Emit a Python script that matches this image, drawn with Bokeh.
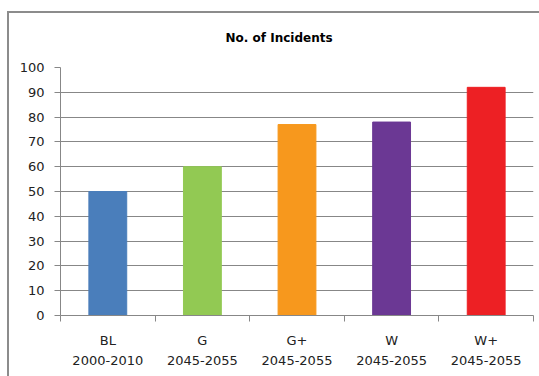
from bokeh.plotting import figure
from bokeh.models import ColumnDataSource, FixedTicker, Range1d
from bokeh.embed import file_html
from bokeh.resources import INLINE

# Scenario bars: number of incidents per period
scenarios = ["BL", "G", "G+", "W", "W+"]
periods = ["2000-2010", "2045-2055", "2045-2055", "2045-2055", "2045-2055"]
incidents = [50, 60, 77, 78, 92]
colors = ["#4a7ebb", "#92c953", "#f7981d", "#6b3894", "#ed2024"]
y_ticks = [0, 10, 20, 30, 40, 50, 60, 70, 80, 90, 100]

positions = [i + 0.5 for i in range(len(scenarios))]
source = ColumnDataSource(dict(x=positions, top=incidents, color=colors))

FONT = "DejaVu Sans"
GRID = "#878787"
FRAME = "#8c8c8c"

p = figure(
    width=532, height=371,
    x_range=Range1d(0, len(scenarios)), y_range=Range1d(0, 100),
    output_backend="svg", toolbar_location=None,
    min_border_left=53, min_border_right=6, min_border_top=62, min_border_bottom=61,
    title="No. of Incidents",
)
# Chart-area frame (top and left edges) painted behind a transparent canvas
p.border_fill_color = None
p.styles = {
    "margin-left": "7px", "margin-top": "5px",
    "background": (
        f"linear-gradient({FRAME}, {FRAME}) 0 6px / 100% 2px no-repeat, "
        f"linear-gradient({FRAME}, {FRAME}) 0 6px / 2px 100% no-repeat"
    ),
}

p.vbar(x="x", top="top", width=0.4, color="color", source=source)

# Title, centred over the whole chart area
p.title.align = "left"
p.title.text_font = FONT
p.title.text_font_size = "12px"
p.title.text_font_style = "bold"
p.title.text_color = "#000000"
p.title.offset = 165
p.title.standoff = 46

p.outline_line_color = None
p.xgrid.grid_line_color = None
p.ygrid.ticker = FixedTicker(ticks=y_ticks)
p.ygrid.grid_line_color = GRID
p.ygrid.grid_line_width = 1

# Y axis
p.yaxis.ticker = FixedTicker(ticks=y_ticks)
p.yaxis.axis_line_color = GRID
p.yaxis.major_tick_line_color = GRID
p.yaxis.major_tick_in = 0
p.yaxis.major_tick_out = 6
p.yaxis.minor_tick_line_color = None
p.yaxis.major_label_text_font = FONT
p.yaxis.major_label_text_font_size = "13px"
p.yaxis.major_label_text_color = "#222222"
p.yaxis.major_label_standoff = 10

# X axis: labels at bar centres, tick marks at category boundaries
p.xaxis.ticker = FixedTicker(ticks=positions, minor_ticks=list(range(len(scenarios) + 1)))
p.xaxis.major_label_overrides = {
    pos: f"{s}\n{per}" for pos, s, per in zip(positions, scenarios, periods)
}
p.xaxis.axis_line_color = GRID
p.xaxis.major_tick_line_color = None
p.xaxis.minor_tick_line_color = GRID
p.xaxis.minor_tick_in = 0
p.xaxis.minor_tick_out = 6
p.xaxis.major_tick_out = 6
p.xaxis.major_label_text_font = FONT
p.xaxis.major_label_text_font_size = "13px"
p.xaxis.major_label_text_color = "#222222"
p.xaxis.major_label_text_line_height = 1.35
p.xaxis.major_label_standoff = 11

open("out.html", "w").write(file_html(p, INLINE))
